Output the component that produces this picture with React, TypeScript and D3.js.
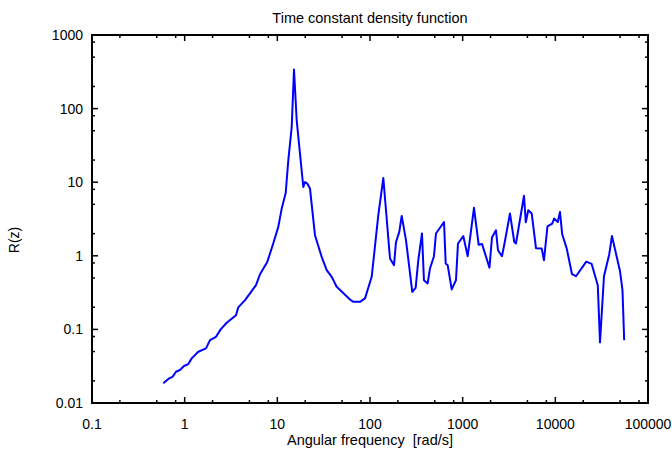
import React from "react";
import * as d3 from "d3";

// angular frequency [rad/s] and time constant density R(z)
const freq = [
    0.588, 0.666, 0.743, 0.806, 0.89, 0.984, 1.094, 1.191, 1.403, 1.699, 1.877, 2.178,
    2.448, 2.842, 3.58, 3.79, 4.478, 5.07, 5.885, 6.5, 7.79, 8.91, 10.24, 11.15, 12.31,
    13.13, 14.29, 15.13, 16.18, 17.56, 19.06, 19.89, 21.04, 22.52, 25.49, 30.1, 34.1,
    38.6, 43.7, 60.8, 66.0, 78.0, 88.3, 104.3, 122.9, 139.2, 164.4, 181.5, 190.8, 207,
    219.8, 244.5, 286, 311, 332, 364, 382, 419, 444, 490, 515, 629, 656, 689, 761, 847,
    890, 1016, 1133, 1325, 1489, 1616, 1946, 2071, 2288, 2405, 2656, 2827, 3241, 3607,
    3760, 4590, 4800, 5105, 5560, 6185, 7123, 7545, 8225, 9250, 9720, 10630, 11220,
    11860, 13260, 15130, 16710, 21580, 24660, 28710, 30340, 33500, 38200, 40840, 49880,
    53040, 55340,
];
const density = [
    0.0185, 0.0212, 0.0228, 0.0266, 0.0281, 0.0318, 0.0338, 0.0404, 0.0497, 0.0552,
    0.0716, 0.0794, 0.1, 0.123, 0.156, 0.199, 0.25, 0.308, 0.399, 0.562, 0.826, 1.39,
    2.47, 4.38, 7.13, 19.8, 56.1, 340, 69.2, 24.4, 8.61, 10.07, 9.57, 8.19, 1.9, 0.966,
    0.638, 0.518, 0.379, 0.255, 0.237, 0.237, 0.264, 0.518, 3.56, 11.4, 0.919, 0.745,
    1.54, 2.11, 3.48, 1.63, 0.324, 0.367, 0.871, 2.01, 0.467, 0.421, 0.673, 0.988, 2.01,
    2.88, 0.787, 0.745, 0.349, 0.467, 1.47, 1.85, 0.988, 4.49, 1.41, 1.45, 0.69, 1.77,
    2.22, 1.19, 0.988, 1.47, 3.75, 1.54, 1.47, 6.54, 2.86, 4.16, 3.75, 1.27, 1.26, 0.871,
    2.52, 2.74, 3.22, 2.88, 3.94, 1.96, 1.26, 0.562, 0.528, 0.832, 0.776, 0.399, 0.0667,
    0.528, 1.05, 1.86, 0.618, 0.341, 0.0711,
];

const xTicks = [0.1, 1, 10, 100, 1000, 10000, 100000];
const xTickLabels = ["0.1", "1", "10", "100", "1000", "10000", "100000"];
const yTicks = [0.01, 0.1, 1, 10, 100, 1000];
const yTickLabels = ["0.01", "0.1", "1", "10", "100", "1000"];
const minorSteps = [2, 5, 8];

const W = 672;
const H = 453;
const left = 92;
const right = 648;
const top = 35;
const bottom = 403;
const font = "'Liberation Sans', Arial, sans-serif";

const App = () => {
    const x = d3.scaleLog().domain([0.1, 100000]).range([left, right]);
    const y = d3.scaleLog().domain([0.01, 1000]).range([bottom, top]);

    const pts = freq.map((f, i) => [f, density[i]]);
    const line = d3
        .line()
        .x((d) => x(d[0]))
        .y((d) => y(d[1]));

    const xMinor = [];
    xTicks.slice(0, -1).forEach((t) => minorSteps.forEach((m) => xMinor.push(t * m)));
    const yMinor = [];
    yTicks.slice(0, -1).forEach((t) => minorSteps.forEach((m) => yMinor.push(t * m)));

    const major = 6;
    const minor = 3;

    return (
        <svg
            width={W}
            height={H}
            style={{ position: "absolute", left: 0, top: 0, background: "white" }}
            fontFamily={font}
        >
            <text x={(left + right) / 2} y={23} textAnchor="middle" fontSize={14.5}>
                Time constant density function
            </text>

            {/* ticks, drawn inward on all four sides */}
            <g stroke="black" strokeWidth={1.5}>
                {xTicks.map((t) => (
                    <g key={"xt" + t}>
                        <line x1={x(t)} x2={x(t)} y1={bottom} y2={bottom - major} />
                        <line x1={x(t)} x2={x(t)} y1={top} y2={top + major} />
                    </g>
                ))}
                {xMinor.map((t) => (
                    <g key={"xm" + t}>
                        <line x1={x(t)} x2={x(t)} y1={bottom} y2={bottom - minor} />
                        <line x1={x(t)} x2={x(t)} y1={top} y2={top + minor} />
                    </g>
                ))}
                {yTicks.map((t) => (
                    <g key={"yt" + t}>
                        <line x1={left} x2={left + major} y1={y(t)} y2={y(t)} />
                        <line x1={right} x2={right - major} y1={y(t)} y2={y(t)} />
                    </g>
                ))}
                {yMinor.map((t) => (
                    <g key={"ym" + t}>
                        <line x1={left} x2={left + minor} y1={y(t)} y2={y(t)} />
                        <line x1={right} x2={right - minor} y1={y(t)} y2={y(t)} />
                    </g>
                ))}
            </g>

            <path d={line(pts)} fill="none" stroke="#0000ff" strokeWidth={2} strokeLinejoin="round" />

            <rect
                x={left}
                y={top}
                width={right - left}
                height={bottom - top}
                fill="none"
                stroke="black"
                strokeWidth={2}
            />

            {xTicks.map((t, i) => (
                <text key={"xl" + t} x={x(t)} y={bottom + 26} textAnchor="middle" fontSize={14}>
                    {xTickLabels[i]}
                </text>
            ))}
            {yTicks.map((t, i) => (
                <text key={"yl" + t} x={left - 9} y={y(t) + 5} textAnchor="end" fontSize={14}>
                    {yTickLabels[i]}
                </text>
            ))}

            <text
                x={(left + right) / 2}
                y={445}
                textAnchor="middle"
                fontSize={14.5}
                style={{ whiteSpace: "pre" }}
            >
                {"Angular frequency  [rad/s]"}
            </text>
            <text
                transform={`translate(19, 240) rotate(-90)`}
                textAnchor="middle"
                fontSize={14}
            >
                R(z)
            </text>
        </svg>
    );
};

export default App;
